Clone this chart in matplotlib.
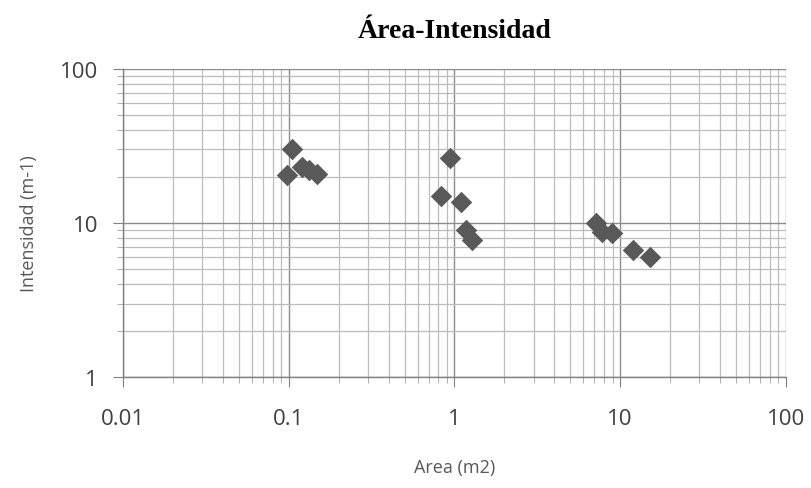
import matplotlib.pyplot as plt
from matplotlib.ticker import LogLocator, FixedFormatter, FixedLocator

# Datos
area = [0.104, 0.097, 0.121, 0.132, 0.149,
        0.946, 0.835, 1.10, 1.18, 1.28,
        7.1, 7.8, 8.9, 12.0, 15.2]
intensidad = [30.2, 20.5, 23.1, 22.1, 20.8,
              26.5, 15.0, 13.7, 9.0, 7.75,
              10.0, 8.7, 8.6, 6.7, 6.0]

x_ticks = [0.01, 0.1, 1, 10, 100]
x_labels = ['0.01', '0.1', '1', '10', '100']
y_ticks = [1, 10, 100]
y_labels = ['1', '10', '100']


def crear_grafica():
    fig = plt.figure(figsize=(8.11, 4.89), dpi=100)
    ax = fig.add_axes([0.1517, 0.227, 0.8173, 0.630])

    ax.set_xscale('log')
    ax.set_yscale('log')
    ax.set_xlim(0.01, 100)
    ax.set_ylim(1, 100)

    ax.xaxis.set_major_locator(FixedLocator(x_ticks))
    ax.xaxis.set_major_formatter(FixedFormatter(x_labels))
    ax.yaxis.set_major_locator(FixedLocator(y_ticks))
    ax.yaxis.set_major_formatter(FixedFormatter(y_labels))
    ax.xaxis.set_minor_locator(LogLocator(base=10, subs=range(2, 10)))
    ax.yaxis.set_minor_locator(LogLocator(base=10, subs=range(2, 10)))
    ax.xaxis.set_minor_formatter(FixedFormatter([]))
    ax.yaxis.set_minor_formatter(FixedFormatter([]))

    ax.grid(True, which='major', color='#8c8c8c', linewidth=1.0)
    ax.grid(True, which='minor', color='#bcbcbc', linewidth=0.9)
    ax.set_axisbelow(True)

    for lado in ['top', 'right']:
        ax.spines[lado].set_visible(False)
    for lado in ['left', 'bottom']:
        ax.spines[lado].set_color('#808080')
        ax.spines[lado].set_linewidth(1.0)

    ax.tick_params(which='major', length=7, color='#808080',
                   labelsize=16, labelcolor='#404040')
    ax.tick_params(which='minor', length=4, color='#a0a0a0')
    ax.tick_params(axis='x', which='major', pad=15)
    ax.tick_params(axis='y', which='major', pad=11)
    for lbl in ax.get_xticklabels() + ax.get_yticklabels():
        lbl.set_family('Open Sans')

    ax.scatter(area, intensidad, marker='D', s=120, color='#595959',
               zorder=3, linewidths=0)

    ax.set_title('Área-Intensidad', family='Liberation Serif',
                 fontweight='bold', fontsize=20, pad=23)
    ax.set_xlabel('Area (m2)', family='Open Sans', fontsize=13,
                  color='#595959', labelpad=21)
    ax.set_ylabel('Intensidad (m-1)', family='Open Sans', fontsize=13,
                  color='#595959', labelpad=16)

    fig.savefig('out.png', dpi=100)


if __name__ == "__main__":
    crear_grafica()
